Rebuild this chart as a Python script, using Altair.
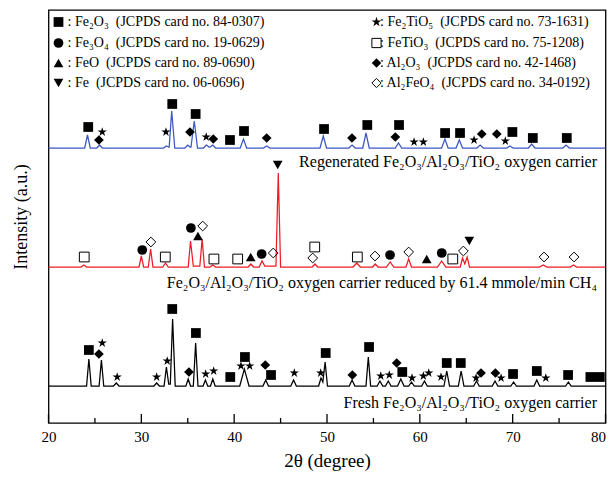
import altair as alt
import pandas as pd

FONT = "Liberation Serif"

# ---------------- curve vertices (2theta in degrees, intensity in a.u.) ----------------
fresh_x = [20,
           24.1, 24.35, 24.6, 25.45, 25.7, 25.95, 27.0, 27.3, 27.6,
           31.35, 31.65, 31.95, 32.45, 32.7, 32.95, 33.12, 33.37, 33.65,
           34.8, 35.05, 35.3, 35.6, 35.85, 36.1, 36.65, 36.9, 37.15,
           37.45, 37.7, 37.95, 40.6, 41.1, 41.6, 43.1, 43.4, 43.7,
           46.1, 46.4, 46.7, 49.1, 49.35, 49.55, 49.8, 50.05,
           52.4, 52.7, 53.0, 54.2, 54.45, 54.7, 55.4, 55.7, 56.0,
           56.3, 56.6, 56.9, 57.6, 57.95, 58.3, 58.8, 59.1, 59.4,
           60.2, 60.5, 60.8, 62.6, 62.9, 63.2, 64.15, 64.45, 64.75,
           65.8, 66.1, 66.4, 67.8, 68.1, 68.4, 69.8, 70.1, 70.4,
           72.3, 72.6, 72.9, 75.7, 76.0, 76.3,
           80]
fresh_y = [37,
           37, 64, 37, 37, 63, 37, 37, 40, 37,
           37, 40, 37, 37, 56, 39, 39, 104, 37,
           37, 44, 37, 37, 80, 37, 37, 43, 37,
           37, 44, 37, 37, 54, 37, 37, 43, 37,
           37, 43, 37, 37, 45, 41, 61, 37,
           37, 43, 37, 37, 66, 37, 37, 42, 37,
           37, 42, 37, 37, 44, 37, 37, 41, 37,
           37, 42, 37, 37, 52, 37, 37, 52, 37,
           37, 42, 37, 37, 42, 37, 37, 41, 37,
           37, 43, 37, 37, 41, 37,
           37]

reduced_x = [20,
             23.5, 23.8, 24.1, 29.75, 30.0, 30.25, 30.75, 31.0, 31.25,
             32.3, 32.6, 32.9, 35.05, 35.3, 35.6, 36.3, 36.55, 36.8,
             37.4, 37.7, 38.0, 41.5, 41.8, 42.1, 42.7, 43.0, 43.3,
             44.5, 44.75, 45.0, 48.4, 48.7, 49.0, 52.8, 53.2, 53.6,
             54.9, 55.2, 55.5, 56.4, 56.8, 57.2, 58.5, 58.8, 59.1,
             61.9, 62.35, 62.8, 64.35, 64.6, 64.85, 65.1, 65.35,
             72.9, 73.3, 73.7, 76.2, 76.55, 76.9,
             80]
reduced_y = [156,
             156, 158, 156, 156, 167, 156, 156, 174, 156,
             156, 160, 156, 156, 182, 157, 157, 184, 156,
             156, 158, 156, 156, 159, 156, 156, 162, 157,
             157, 250, 156, 156, 159, 156, 156, 160, 156,
             156, 159, 156, 156, 161, 156, 156, 164, 156,
             156, 162, 156, 156, 165, 159, 166, 156,
             156, 158, 156, 156, 158, 156,
             156]

regen_x = [20,
           23.9, 24.2, 24.5, 25.2, 25.5, 25.8, 32.4, 32.7, 32.95,
           33.0, 33.27, 33.6, 34.7, 35.0, 35.25, 35.35, 35.7, 36.05,
           36.7, 37.0, 37.3, 37.4, 37.7, 38.0, 40.65, 41.0, 41.35,
           43.15, 43.5, 43.85, 49.25, 49.6, 49.95, 52.35, 52.7, 53.05,
           53.85, 54.2, 54.55, 57.35, 57.7, 58.05, 62.35, 62.7, 63.05,
           63.9, 64.25, 64.6, 66.15, 66.5, 66.85, 69.35, 69.7, 70.05,
           71.7, 72.05, 72.4, 75.4, 75.75, 76.1,
           80]
regen_y = [275,
           275, 288, 275, 275, 278, 275, 275, 277, 276,
           276, 312, 275, 275, 278, 276, 276, 302, 275,
           275, 278, 276, 276, 278, 275, 275, 284, 275,
           275, 277, 275, 275, 287, 275, 275, 278, 275,
           275, 290, 275, 275, 280, 275, 275, 284, 275,
           275, 283, 275, 275, 278, 275, 275, 277, 275,
           275, 279, 275, 275, 278, 275,
           275]

# ---------------- phase markers ----------------
fresh_mk_x = [24.35, 25.43, 25.79, 27.40, 31.65, 32.79, 33.33, 35.13, 35.88, 36.93,
              37.79, 39.58, 40.73, 41.16, 41.67, 43.35, 43.97, 46.48, 49.32, 49.86,
              52.73, 54.53, 55.79, 56.71, 57.51, 58.11, 59.16, 60.38, 60.96, 62.28,
              62.90, 64.41, 66.06, 66.59, 68.14, 68.75, 70.04, 72.60, 73.57, 75.97,
              78.37, 79.39]
fresh_mk_y = [73, 69, 80, 46, 46, 62, 114, 51, 90, 49,
              52, 46, 57, 66, 57, 58, 48, 50, 50, 70,
              48, 76, 47, 48, 60, 51, 45, 47, 50, 46,
              60, 60, 45, 50, 50, 45, 49, 52, 45, 48,
              46, 46]
fresh_mk_phase = ["Fe2O3", "Al2O3", "Fe2TiO5", "Fe2TiO5", "Fe2TiO5", "Fe2TiO5", "Fe2O3", "Al2O3", "Fe2O3", "Fe2TiO5",
                  "Fe2TiO5", "Fe2O3", "Fe2TiO5", "Fe2O3", "Fe2TiO5", "Al2O3", "Fe2O3", "Fe2TiO5", "Fe2TiO5", "Fe2O3",
                  "Al2O3", "Fe2O3", "Fe2TiO5", "Fe2TiO5", "Al2O3", "Fe2O3", "Fe2TiO5", "Fe2TiO5", "Fe2TiO5", "Fe2TiO5",
                  "Fe2O3", "Fe2O3", "Fe2TiO5", "Al2O3", "Al2O3", "Fe2TiO5", "Fe2O3", "Fe2O3", "Fe2TiO5", "Fe2O3",
                  "Fe2O3", "Fe2O3"]

reduced_mk_x = [23.85, 30.10, 31.03, 32.58, 35.34, 36.10, 36.61, 37.82, 40.38, 41.78,
                42.96, 44.21, 44.69, 48.46, 48.68, 53.27, 55.17, 56.79, 58.80, 60.74,
                62.36, 63.55, 64.69, 65.33, 73.38, 76.61]
reduced_mk_y = [166, 173, 181, 166, 195, 187, 197, 164, 164, 166,
                169, 170, 258, 165, 176, 166, 167, 168, 171, 164,
                170, 164, 172, 182, 166, 166]
reduced_mk_phase = ["FeTiO3", "Fe3O4", "Al2FeO4", "FeTiO3", "Fe3O4", "FeO", "Al2FeO4", "FeTiO3", "FeTiO3", "FeO",
                    "Fe3O4", "Al2FeO4", "Fe", "Al2FeO4", "FeTiO3", "FeTiO3", "Al2FeO4", "Fe3O4", "Al2FeO4", "FeO",
                    "Fe3O4", "FeTiO3", "Al2FeO4", "Fe", "Al2FeO4", "Al2FeO4"]

regen_mk_x = [24.28, 25.43, 25.79, 32.65, 33.33, 35.24, 35.85, 36.99, 37.75, 39.55,
              41.06, 43.50, 49.68, 52.69, 54.34, 57.36, 57.76, 59.38, 60.38, 62.72,
              64.33, 65.84, 66.67, 68.29, 69.21, 69.97, 72.17, 75.83]
regen_mk_y = [296, 283, 291, 291, 319, 291, 309, 286, 284, 283,
              292, 285, 294, 285, 298, 286, 298, 281, 281, 290,
              290, 283, 289, 289, 282, 291, 285, 285]
regen_mk_phase = ["Fe2O3", "Al2O3", "Fe2TiO5", "Fe2TiO5", "Fe2O3", "Al2O3", "Fe2O3", "Fe2TiO5", "Al2O3", "Fe2O3",
                  "Fe2O3", "Al2O3", "Fe2O3", "Al2O3", "Fe2O3", "Al2O3", "Fe2O3", "Fe2TiO5", "Fe2TiO5", "Fe2O3",
                  "Fe2O3", "Fe2TiO5", "Al2O3", "Al2O3", "Fe2TiO5", "Fe2O3", "Fe2O3", "Fe2O3"]

# ---------------- legend / labels ----------------
NB = "\u00a0"
phases = ["Fe2O3", "Fe3O4", "FeO", "Fe", "Fe2TiO5", "FeTiO3", "Al2O3", "Al2FeO4"]
hollow_phases = ["FeTiO3", "Al2FeO4"]
legend_names = ["Fe₂O₃", "Fe₃O₄", "FeO", "Fe", "Fe₂TiO₅", "FeTiO₃", "Al₂O₃", "Al₂FeO₄"]
legend_cards = ["84-0307", "19-0629", "89-0690", "06-0696", "73-1631", "75-1208", "42-1468", "34-0192"]
series_names = ["fresh", "reduced", "regen"]
series_labels = ["Fresh Fe₂O₃/Al₂O₃/TiO₂ oxygen carrier",
                 "Fe₂O₃/Al₂O₃/TiO₂ oxygen carrier reduced by 61.4 mmole/min CH₄",
                 "Regenerated Fe₂O₃/Al₂O₃/TiO₂ oxygen carrier"]
major_ticks = [20, 30, 40, 50, 60, 70, 80]
minor_ticks = [25, 35, 45, 55, 65, 75]

# ---------------- styling ----------------
STAR = ("M0,-1L0.2245,-0.309L0.9511,-0.309L0.3633,0.118L0.5878,0.809"
        "L0,0.382L-0.5878,0.809L-0.3633,0.118L-0.9511,-0.309L-0.2245,-0.309Z")
shape_range = ["square", "circle", "triangle-up", "triangle-down", STAR, "square", "diamond", "diamond"]
size_range = [95, 95, 95, 95, 110, 85, 90, 85]
line_colors = ["#000000", "#ee1c24", "#3c58c2"]
W, H = 557, 413

X = alt.X("x:Q", scale=alt.Scale(domain=[20, 80], nice=False, zero=False),
          axis=alt.Axis(values=major_ticks, ticks=False, tickSize=0, domain=False, grid=False,
                        labelFont=FONT, labelFontSize=15, labelColor="black", labelPadding=6,
                        labelFlush=False, format="d",
                        labelAlign=alt.expr("datum.value >= 80 ? 'right' : 'center'"),
                        title="2θ (degree)", titleFont=FONT, titleFontSize=19,
                        titleFontWeight="normal", titleColor="black", titlePadding=7))
Y = alt.Y("y:Q", scale=alt.Scale(domain=[0, H], nice=False, zero=False),
          axis=alt.Axis(labels=False, ticks=False, domain=False, grid=False,
                        title="Intensity (a.u.)", titleFont=FONT, titleFontSize=18,
                        titleFontWeight="normal", titleColor="black", titlePadding=18))

curves = pd.concat([
    pd.DataFrame({"x": fresh_x, "y": fresh_y, "s": "fresh"}),
    pd.DataFrame({"x": reduced_x, "y": reduced_y, "s": "reduced"}),
    pd.DataFrame({"x": regen_x, "y": regen_y, "s": "regen"}),
])
markers = pd.concat([
    pd.DataFrame({"x": fresh_mk_x, "y": fresh_mk_y, "phase": fresh_mk_phase}),
    pd.DataFrame({"x": reduced_mk_x, "y": reduced_mk_y, "phase": reduced_mk_phase}),
    pd.DataFrame({"x": regen_mk_x, "y": regen_mk_y, "phase": regen_mk_phase}),
])
filled_df = markers[~markers["phase"].isin(hollow_phases)]
hollow_df = markers[markers["phase"].isin(hollow_phases)]
SHAPE = alt.Shape("phase:N", scale=alt.Scale(domain=phases, range=shape_range), legend=None)
SIZE = alt.Size("phase:N", scale=alt.Scale(domain=phases, range=size_range), legend=None)

lines = alt.Chart(curves).mark_line(strokeWidth=1.25).encode(
    x=X, y=Y,
    color=alt.Color("s:N", scale=alt.Scale(domain=series_names, range=line_colors), legend=None),
)
filled_pts = alt.Chart(filled_df).mark_point(filled=True, color="black", opacity=1).encode(
    x=X, y=Y, shape=SHAPE, size=SIZE)
hollow_pts = alt.Chart(hollow_df).mark_point(filled=False, color="black", strokeWidth=1, opacity=1).encode(
    x=X, y=Y, shape=SHAPE, size=SIZE)

major = alt.Chart(pd.DataFrame({"x": major_ticks})).mark_rule(color="black", strokeWidth=1.3).encode(
    x=X, y=alt.value(H), y2=alt.value(H - 9))
minor = alt.Chart(pd.DataFrame({"x": minor_ticks})).mark_rule(color="black", strokeWidth=1.3).encode(
    x=X, y=alt.value(H), y2=alt.value(H - 5))

one = alt.Data(values=[{"a": 1}])
layers = [lines, major, minor, filled_pts, hollow_pts]

# curve labels (right aligned)
label_y = [393, 273, 152]
for txt, ly in zip(series_labels, label_y):
    layers.append(alt.Chart(one).mark_text(text=txt, font=FONT, fontSize=16, color="black",
                                           align="right", baseline="middle")
                  .encode(x=alt.value(548.5), y=alt.value(ly)))

# legend
rows = [12, 33, 53, 73]
for i, ph in enumerate(phases):
    col = i // 4
    mx = 10 if col == 0 else 328
    tx = 19 if col == 0 else 331.5
    my = rows[i % 4]
    txt = ": " + legend_names[i] + NB + " (JCPDS card no. " + legend_cards[i] + ")"
    filled = ph not in hollow_phases
    layers.append(alt.Chart(one).mark_point(shape=shape_range[i], filled=filled, color="black",
                                            size=size_range[i], strokeWidth=1, opacity=1)
                  .encode(x=alt.value(mx), y=alt.value(my)))
    layers.append(alt.Chart(one).mark_text(text=txt, font=FONT, fontSize=14, color="black",
                                           align="left", baseline="middle")
                  .encode(x=alt.value(tx), y=alt.value(my)))

chart = alt.layer(*layers).properties(
    width=W, height=H,
    padding={"left": 40.5, "top": 2, "right": 2, "bottom": 50},
    autosize=alt.AutoSizeParams(type="none"),
    background="white",
).configure_view(stroke="black", strokeWidth=1.3)

chart.save("out.html", embed_options={"renderer": "svg", "actions": False})
